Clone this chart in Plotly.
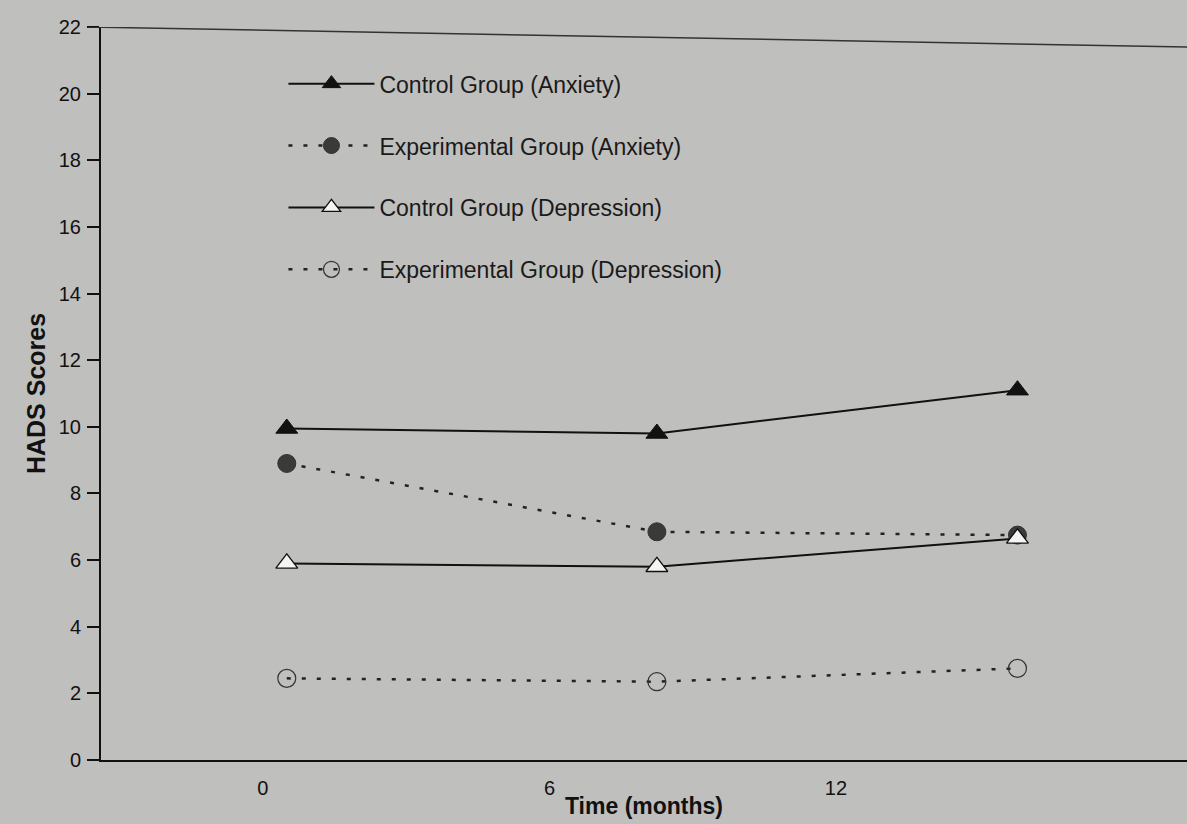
import plotly.graph_objects as go

# Data
time_months = [0.5, 8.25, 15.8]
control_anxiety = [9.95, 9.8, 11.1]
experimental_anxiety = [8.9, 6.85, 6.75]
control_depression = [5.9, 5.8, 6.65]
experimental_depression = [2.45, 2.35, 2.75]
x_tick_vals = [0, 6, 12]
x_tick_text = ["0", "6", "12"]
y_tick_vals = list(range(0, 23, 2))

BG = "#bfbfbd"
FONT = "Liberation Sans, Arial, sans-serif"

fig = go.Figure()
fig.add_trace(go.Scatter(
    x=time_months, y=control_anxiety, name="Control Group (Anxiety)",
    mode="lines+markers", legendgroup="a",
    line=dict(color="#111111", width=2),
    marker=dict(symbol="triangle-up", size=19, color="#111111", line=dict(color="#111111", width=1)),
))
fig.add_trace(go.Scatter(
    x=time_months, y=experimental_anxiety, name="Experimental Group (Anxiety)",
    mode="lines+markers", legendgroup="b",
    line=dict(color="#222222", width=2.5, dash="4px,11px"),
    marker=dict(symbol="circle", size=18, color="#3a3a3a", line=dict(color="#333333", width=1)),
))
fig.add_trace(go.Scatter(
    x=time_months, y=control_depression, name="Control Group (Depression)",
    mode="lines+markers", legendgroup="c",
    line=dict(color="#111111", width=2),
    marker=dict(symbol="triangle-up", size=19, color="#f4f4f4", line=dict(color="#111111", width=1.3)),
))
fig.add_trace(go.Scatter(
    x=time_months, y=experimental_depression, name="Experimental Group (Depression)",
    mode="lines+markers", legendgroup="d",
    line=dict(color="#222222", width=2.5, dash="4px,11px"),
    marker=dict(symbol="circle-open", size=18, color="#333333", line=dict(width=1.2)),
))

fig.update_layout(
    width=1187, height=824,
    paper_bgcolor=BG, plot_bgcolor=BG,
    margin=dict(l=101, r=0, t=27, b=64),
    font=dict(family=FONT, color="#111111", size=18),
    showlegend=True,
    legend=dict(
        x=0.168, y=0.952, xanchor="left", yanchor="top",
        bgcolor="rgba(0,0,0,0)", font=dict(size=23, family=FONT, color="#1a1a1a"),
        itemwidth=86, tracegroupgap=29, traceorder="grouped",
    ),
    xaxis=dict(
        range=[-3.39, 19.35], tickmode="array", tickvals=x_tick_vals, ticktext=x_tick_text,
        showgrid=False, zeroline=False, showline=True, linecolor="#111111", linewidth=2,
        ticks="", ticklen=0, tickfont=dict(size=20, family=FONT, color="#111111"), ticklabelstandoff=9,
        title=dict(text="<b>Time (months)</b>", font=dict(size=23, family=FONT), standoff=0),
    ),
    yaxis=dict(
        range=[0, 22], tickmode="array", tickvals=y_tick_vals,
        showgrid=False, zeroline=False, showline=True, linecolor="#111111", linewidth=2,
        ticks="outside", ticklen=12, tickwidth=1.5, tickcolor="#111111",
        tickfont=dict(size=20, family=FONT, color="#111111"), ticklabelstandoff=2,
        title=dict(text="<b>HADS Scores</b>", font=dict(size=25, family=FONT), standoff=6),
    ),
    shapes=[dict(type="line", xref="paper", yref="y", x0=-0.012, x1=1.0, y0=22, y1=21.4,
                 line=dict(color="#333333", width=1.5))],
)

fig.write_html("out.html", config={"displayModeBar": False},
               post_script="document.body.style.margin='0';document.body.style.background='%s';" % BG)
